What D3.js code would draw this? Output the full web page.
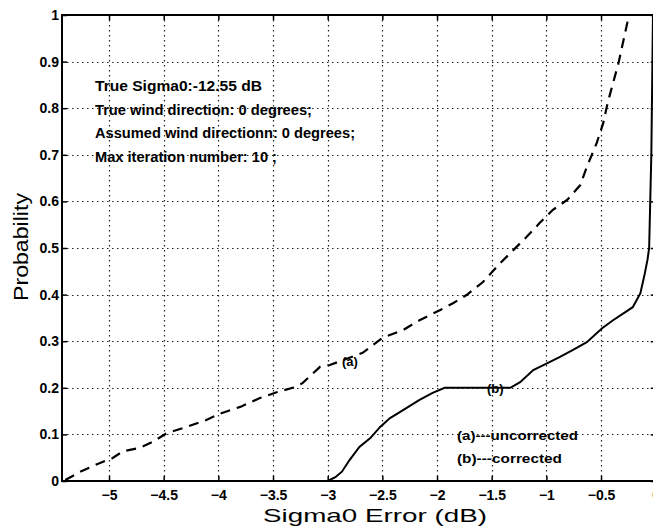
<!DOCTYPE html>
<html>
<head>
<meta charset="utf-8">
<script src="https://cdn.jsdelivr.net/npm/d3@7"></script>
<style>
  body { margin: 0; background: #fff; }
  svg { display: block; font-family: "Liberation Sans", Arial, Helvetica, sans-serif; }
  .tickLbl text { font-size: 14px; font-weight: bold; fill: #000; }
  .note { font-size: 14px; font-weight: bold; fill: #000; }
</style>
</head>
<body>
<div id="chart"></div>
<script>
// tick values
const xTicks = [-5, -4.5, -4, -3.5, -3, -2.5, -2, -1.5, -1, -0.5, 0];
const yTicks = [0, 0.1, 0.2, 0.3, 0.4, 0.5, 0.6, 0.7, 0.8, 0.9, 1];

// (a) uncorrected
const uncorrX = [-5.40, -5.27, -5.11, -4.97, -4.87, -4.72, -4.60, -4.47, -4.29, -4.11, -3.99, -3.80,
                 -3.62, -3.46, -3.32, -3.23, -3.07, -2.98, -2.68, -2.50, -2.31, -2.16, -1.97, -1.85,
                 -1.73, -1.58, -1.42, -1.30, -1.18, -1.06, -0.94, -0.81, -0.69, -0.63, -0.54, -0.48,
                 -0.44, -0.39, -0.34, -0.30, -0.26, -0.25];
const uncorrY = [0.002, 0.019, 0.036, 0.049, 0.064, 0.071, 0.084, 0.103, 0.116, 0.131, 0.144, 0.159,
                 0.178, 0.191, 0.200, 0.210, 0.245, 0.249, 0.275, 0.307, 0.324, 0.345, 0.367, 0.382,
                 0.399, 0.427, 0.468, 0.496, 0.524, 0.554, 0.582, 0.603, 0.635, 0.674, 0.725, 0.768,
                 0.811, 0.854, 0.897, 0.940, 0.983, 1.0];

// (b) corrected
const corrX = [-3.00, -2.93, -2.87, -2.80, -2.71, -2.61, -2.52, -2.43, -2.34, -2.16, -2.04, -1.93,
               -1.33, -1.24, -1.12, -0.99, -0.88, -0.76, -0.63, -0.49, -0.39, -0.21, -0.14, -0.10,
               -0.075, -0.06, -0.05, -0.04, -0.035, -0.03, -0.025];
const corrY = [0.0, 0.008, 0.02, 0.045, 0.073, 0.092, 0.116, 0.135, 0.148, 0.174, 0.189, 0.200,
               0.200, 0.212, 0.238, 0.253, 0.266, 0.281, 0.298, 0.328, 0.345, 0.373, 0.403, 0.445,
               0.475, 0.50, 0.60, 0.70, 0.80, 0.90, 1.0];

const notes = ["True Sigma0:-12.55 dB", "True wind direction: 0 degrees;",
               "Assumed wind directionn: 0 degrees;", "Max iteration number: 10 ;"];
const noteWidths = [167, 217, 260, 182];
const legendLabels = ["(a)---uncorrected", "(b)---corrected"];
const legendWidths = [121, 105];

const W = 653, H = 529;
const plot = {left: 62, top: 15, right: 655.7, bottom: 481};

const svg = d3.select("#chart").append("svg")
    .attr("width", W)
    .attr("height", H);

const xScale = d3.scaleLinear().domain([-5.43, 0]).range([plot.left, plot.right]);
const yScale = d3.scaleLinear().domain([0, 1]).range([plot.bottom, plot.top]);

// dotted grid (snapped to pixel centres so the dots stay dark)
const snap = v => Math.round(v) + 0.5;
const grid = svg.append("g").attr("class", "grid")
    .attr("stroke", "#222").attr("stroke-width", 1.2)
    .attr("stroke-dasharray", "1.5,3.5");
grid.selectAll(".gx").data(xTicks.filter(d => d < 0)).join("line")
    .attr("class", "gx")
    .attr("x1", d => snap(xScale(d))).attr("x2", d => snap(xScale(d)))
    .attr("y1", plot.top).attr("y2", plot.bottom);
grid.selectAll(".gy").data(yTicks.filter(d => d > 0 && d < 1)).join("line")
    .attr("class", "gy")
    .attr("x1", plot.left).attr("x2", plot.right)
    .attr("y1", d => snap(yScale(d))).attr("y2", d => snap(yScale(d)));

// axes, ticks pointing inward
const fmt = d3.format("");
svg.append("g").attr("class", "tickLbl")
    .attr("transform", "translate(0," + plot.bottom + ")")
    .call(d3.axisBottom(xScale).tickValues(xTicks).tickFormat(fmt).tickSize(-5).tickPadding(9));
svg.append("g").attr("class", "tickLbl")
    .attr("transform", "translate(" + plot.left + ",0)")
    .call(d3.axisLeft(yScale).tickValues(yTicks).tickFormat(fmt).tickSize(-5).tickPadding(3));
svg.append("g")
    .attr("transform", "translate(0," + plot.top + ")")
    .call(d3.axisTop(xScale).tickValues(xTicks).tickFormat("").tickSize(-5));
svg.append("g")
    .attr("transform", "translate(" + plot.right + ",0)")
    .call(d3.axisRight(yScale).tickValues(yTicks).tickFormat("").tickSize(-5));
svg.selectAll(".domain").remove();
svg.selectAll(".tick line").attr("stroke", "#000").attr("stroke-width", 1.5);

// frame
svg.append("rect")
    .attr("x", plot.left).attr("y", plot.top)
    .attr("width", plot.right - plot.left).attr("height", plot.bottom - plot.top)
    .attr("fill", "none").attr("stroke", "#000").attr("stroke-width", 2);

// curves
svg.append("clipPath").attr("id", "clip")
    .append("rect")
    .attr("x", plot.left).attr("y", plot.top - 1)
    .attr("width", plot.right - plot.left).attr("height", plot.bottom - plot.top + 1);

const line = d3.line().x(d => xScale(d[0])).y(d => yScale(d[1]));

svg.append("path")
    .datum(d3.zip(uncorrX, uncorrY))
    .attr("clip-path", "url(#clip)")
    .attr("d", line)
    .attr("fill", "none").attr("stroke", "#000").attr("stroke-width", 2.2)
    .attr("stroke-dasharray", "10,7");

svg.append("path")
    .datum(d3.zip(corrX, corrY))
    .attr("clip-path", "url(#clip)")
    .attr("d", line)
    .attr("fill", "none").attr("stroke", "#000").attr("stroke-width", 2);

// annotations
svg.selectAll(".noteTxt").data(notes).join("text")
    .attr("class", "note")
    .attr("x", 95)
    .attr("y", (d, i) => 91 + i * 23.6)
    .attr("textLength", (d, i) => noteWidths[i])
    .attr("lengthAdjust", "spacingAndGlyphs")
    .text(d => d);

svg.selectAll(".legTxt").data(legendLabels).join("text")
    .attr("class", "note")
    .attr("x", 457)
    .attr("y", (d, i) => 440 + i * 23)
    .attr("textLength", (d, i) => legendWidths[i])
    .attr("lengthAdjust", "spacingAndGlyphs")
    .style("font-size", "13px")
    .text(d => d);

svg.append("text").attr("class", "note")
    .attr("x", 342).attr("y", 366).style("font-size", "13px").text("(a)");
svg.append("text").attr("class", "note")
    .attr("x", 487).attr("y", 393).style("font-size", "13px").text("(b)");

// axis titles
svg.append("text")
    .attr("x", 263).attr("y", 522)
    .attr("textLength", 224).attr("lengthAdjust", "spacingAndGlyphs")
    .style("font-size", "19px")
    .text("Sigma0 Error (dB)");

svg.append("text")
    .attr("transform", "translate(28,301) rotate(-90)")
    .attr("textLength", 108).attr("lengthAdjust", "spacingAndGlyphs")
    .style("font-size", "20px")
    .text("Probability");
</script>
</body>
</html>
